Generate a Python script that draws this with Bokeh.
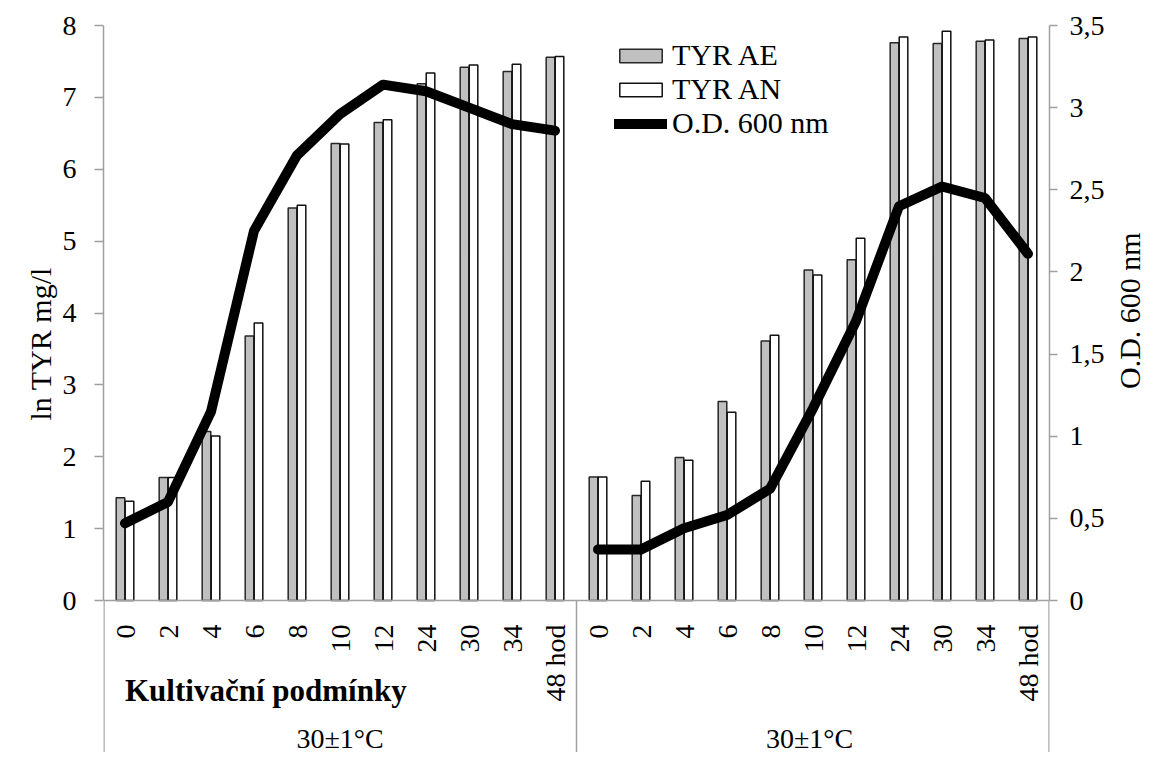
import math
from bokeh.plotting import figure
from bokeh.models import (FactorRange, Range1d, LinearAxis, FixedTicker, CustomJSTickFormatter,
                          ColumnDataSource, Legend, LegendItem, Title)
from bokeh.transform import dodge
from bokeh.core.properties import value
from bokeh.embed import file_html
from bokeh.resources import INLINE

# ---------------- data ----------------
hours = ["0", "2", "4", "6", "8", "10", "12", "24", "30", "34", "48 hod"]
groups = ["30±1°C", "30±1°C "]
axis_note = "Kultivační podmínky"

tyr_ae_1 = [1.43, 1.71, 2.35, 3.68, 5.46, 6.36, 6.65, 7.19, 7.42, 7.36, 7.56]
tyr_an_1 = [1.38, 1.71, 2.29, 3.86, 5.50, 6.35, 6.69, 7.34, 7.45, 7.46, 7.57]
tyr_ae_2 = [1.72, 1.46, 1.99, 2.77, 3.61, 4.60, 4.74, 7.76, 7.75, 7.78, 7.82]
tyr_an_2 = [1.72, 1.66, 1.95, 2.62, 3.69, 4.53, 5.04, 7.84, 7.92, 7.80, 7.84]
od_1 = [0.47, 0.60, 1.15, 2.25, 2.71, 2.96, 3.14, 3.10, 3.00, 2.90, 2.86]
od_2 = [0.31, 0.31, 0.44, 0.52, 0.68, 1.17, 1.70, 2.40, 2.52, 2.45, 2.11]

y_max = 8
od_max = 3.5
y_ticks = [0, 1, 2, 3, 4, 5, 6, 7, 8]
od_ticks = [0, 0.5, 1, 1.5, 2, 2.5, 3, 3.5]

# ---------------- layout / style ----------------
FONT = "Liberation Serif"
AXIS_GRAY = "#a0a0a0"
W, H = 1165, 752
LEFT, RIGHT, TOP, ZERO_Y = 103, 1050, 25, 600      # pixel geometry of the plot area
below_frac = (H - ZERO_Y) / (ZERO_Y - TOP)         # category-label zone below zero

factors = [(g, h) for g in groups for h in hours]
n = len(hours)
bar_src = ColumnDataSource(dict(x=factors, ae=tyr_ae_1 + tyr_ae_2, an=tyr_an_1 + tyr_an_2))
od_src_1 = ColumnDataSource(dict(x=factors[:n], od=od_1))
od_src_2 = ColumnDataSource(dict(x=factors[n:], od=od_2))

y_low = -y_max * below_frac
od_low = -od_max * below_frac

p = figure(width=W, height=H,
           x_range=FactorRange(*factors, group_padding=0, factor_padding=0, range_padding=0),
           y_range=Range1d(y_low, y_max),
           output_backend="svg", toolbar_location=None,
           min_border_left=LEFT, min_border_right=W - RIGHT,
           min_border_top=TOP, min_border_bottom=0)
p.extra_y_ranges = {"od": Range1d(od_low, od_max)}

p.outline_line_color = None
p.xgrid.grid_line_color = None
p.ygrid.grid_line_color = None
p.background_fill_color = "white"
p.border_fill_color = "white"

# vertical separator lines running down through the category-label zone
sep_style = dict(line_color=AXIS_GRAY, line_width=1.5)
edge_l = ColumnDataSource(dict(x=[factors[0]], y0=[0], y1=[y_low]))
edge_m = ColumnDataSource(dict(x=[factors[n]], y0=[0], y1=[y_low]))
edge_r = ColumnDataSource(dict(x=[factors[-1]], y0=[0], y1=[y_low]))
p.segment(x0=dodge("x", -0.49, range=p.x_range), x1=dodge("x", -0.49, range=p.x_range),
          y0="y0", y1="y1", source=edge_l, **sep_style)
p.segment(x0=dodge("x", -0.5, range=p.x_range), x1=dodge("x", -0.5, range=p.x_range),
          y0="y0", y1="y1", source=edge_m, **sep_style)
p.segment(x0=dodge("x", 0.49, range=p.x_range), x1=dodge("x", 0.49, range=p.x_range),
          y0="y0", y1="y1", source=edge_r, **sep_style)

r_ae = p.vbar(x=dodge("x", -0.105, range=p.x_range), top="ae", bottom=0, width=0.2, source=bar_src,
              fill_color="#c0c0c0", line_color="#262626", line_width=1.5)
r_an = p.vbar(x=dodge("x", 0.105, range=p.x_range), top="an", bottom=0, width=0.2, source=bar_src,
              fill_color="white", line_color="#111111", line_width=1.5)
r_od1 = p.line(x="x", y="od", source=od_src_1, y_range_name="od",
               line_color="black", line_width=10, line_cap="round", line_join="round")
r_od2 = p.line(x="x", y="od", source=od_src_2, y_range_name="od",
               line_color="black", line_width=10, line_cap="round", line_join="round")

# note text inside the category zone of the first group
note_src = ColumnDataSource(dict(x=[factors[0]], y=[-90 / (ZERO_Y - TOP) * y_max], t=[axis_note]))
p.text(x=dodge("x", 0.0, range=p.x_range), y="y", text="t", source=note_src,
       text_font=value(FONT), text_font_size="31px", text_font_style="bold",
       text_align="left", text_baseline="middle", text_color="black")

# ---- left axis ----
yax = p.yaxis[0]
yax.bounds = (0, y_max)
yax.ticker = FixedTicker(ticks=y_ticks)
yax.axis_line_color = AXIS_GRAY
yax.axis_line_width = 1.5
yax.major_tick_line_color = AXIS_GRAY
yax.major_tick_line_width = 1.5
yax.major_tick_out = 9
yax.major_tick_in = 0
yax.minor_tick_line_color = None
yax.major_label_text_font = FONT
yax.major_label_text_font_size = "28px"
yax.major_label_text_color = "black"
yax.major_label_standoff = 18

# left title (reads bottom-to-top), positioned along the side panel
p.add_layout(Title(text="ln TYR mg/l", align="left", offset=H - 420,
                   text_font=FONT, text_font_size="30px", text_font_style="normal",
                   text_color="black", standoff=6), "left")

# ---- right axis ----
rax = LinearAxis(y_range_name="od", ticker=FixedTicker(ticks=od_ticks), bounds=(0, od_max),
                 formatter=CustomJSTickFormatter(code="return String(tick).replace('.', ',');"))
rax.axis_line_color = AXIS_GRAY
rax.axis_line_width = 1.5
rax.major_tick_line_color = AXIS_GRAY
rax.major_tick_line_width = 1.5
rax.major_tick_out = 8
rax.major_tick_in = 0
rax.minor_tick_line_color = None
rax.major_label_text_font = FONT
rax.major_label_text_font_size = "28px"
rax.major_label_text_color = "black"
rax.major_label_standoff = 12
rax.axis_label = "O.D. 600 nm"
rax.axis_label_text_font = FONT
rax.axis_label_text_font_size = "30px"
rax.axis_label_text_font_style = "normal"
rax.axis_label_text_color = "black"
rax.axis_label_standoff = 22
try:
    rax.axis_label_orientation = math.pi / 2
except Exception:
    pass
p.add_layout(rax, "right")

# ---- bottom categorical axis, drawn at zero ----
xax = p.xaxis[0]
xax.fixed_location = 0
xax.axis_line_color = AXIS_GRAY
xax.axis_line_width = 1.5
xax.major_tick_line_color = None
xax.minor_tick_line_color = None
xax.major_label_orientation = math.pi / 2
xax.major_label_text_font = FONT
xax.major_label_text_font_size = "28px"
xax.major_label_text_color = "black"
xax.major_label_standoff = 18
xax.group_text_font = FONT
xax.group_text_font_size = "28px"
xax.group_text_color = "black"
xax.group_text_font_style = "normal"
xax.separator_line_color = None

# ---- legend ----
legend = Legend(items=[LegendItem(label="TYR AE", renderers=[r_ae]),
                       LegendItem(label="TYR AN", renderers=[r_an]),
                       LegendItem(label="O.D. 600 nm", renderers=[r_od1])],
                location=(511, 612), orientation="vertical",
                padding=0, margin=0, spacing=0,
                glyph_width=53, glyph_height=17, label_standoff=5,
                label_text_font=FONT, label_text_font_size="30px",
                label_text_color="black",
                border_line_color=None, background_fill_alpha=0)
p.add_layout(legend, "center")

open("out.html", "w").write(file_html(p, INLINE))
